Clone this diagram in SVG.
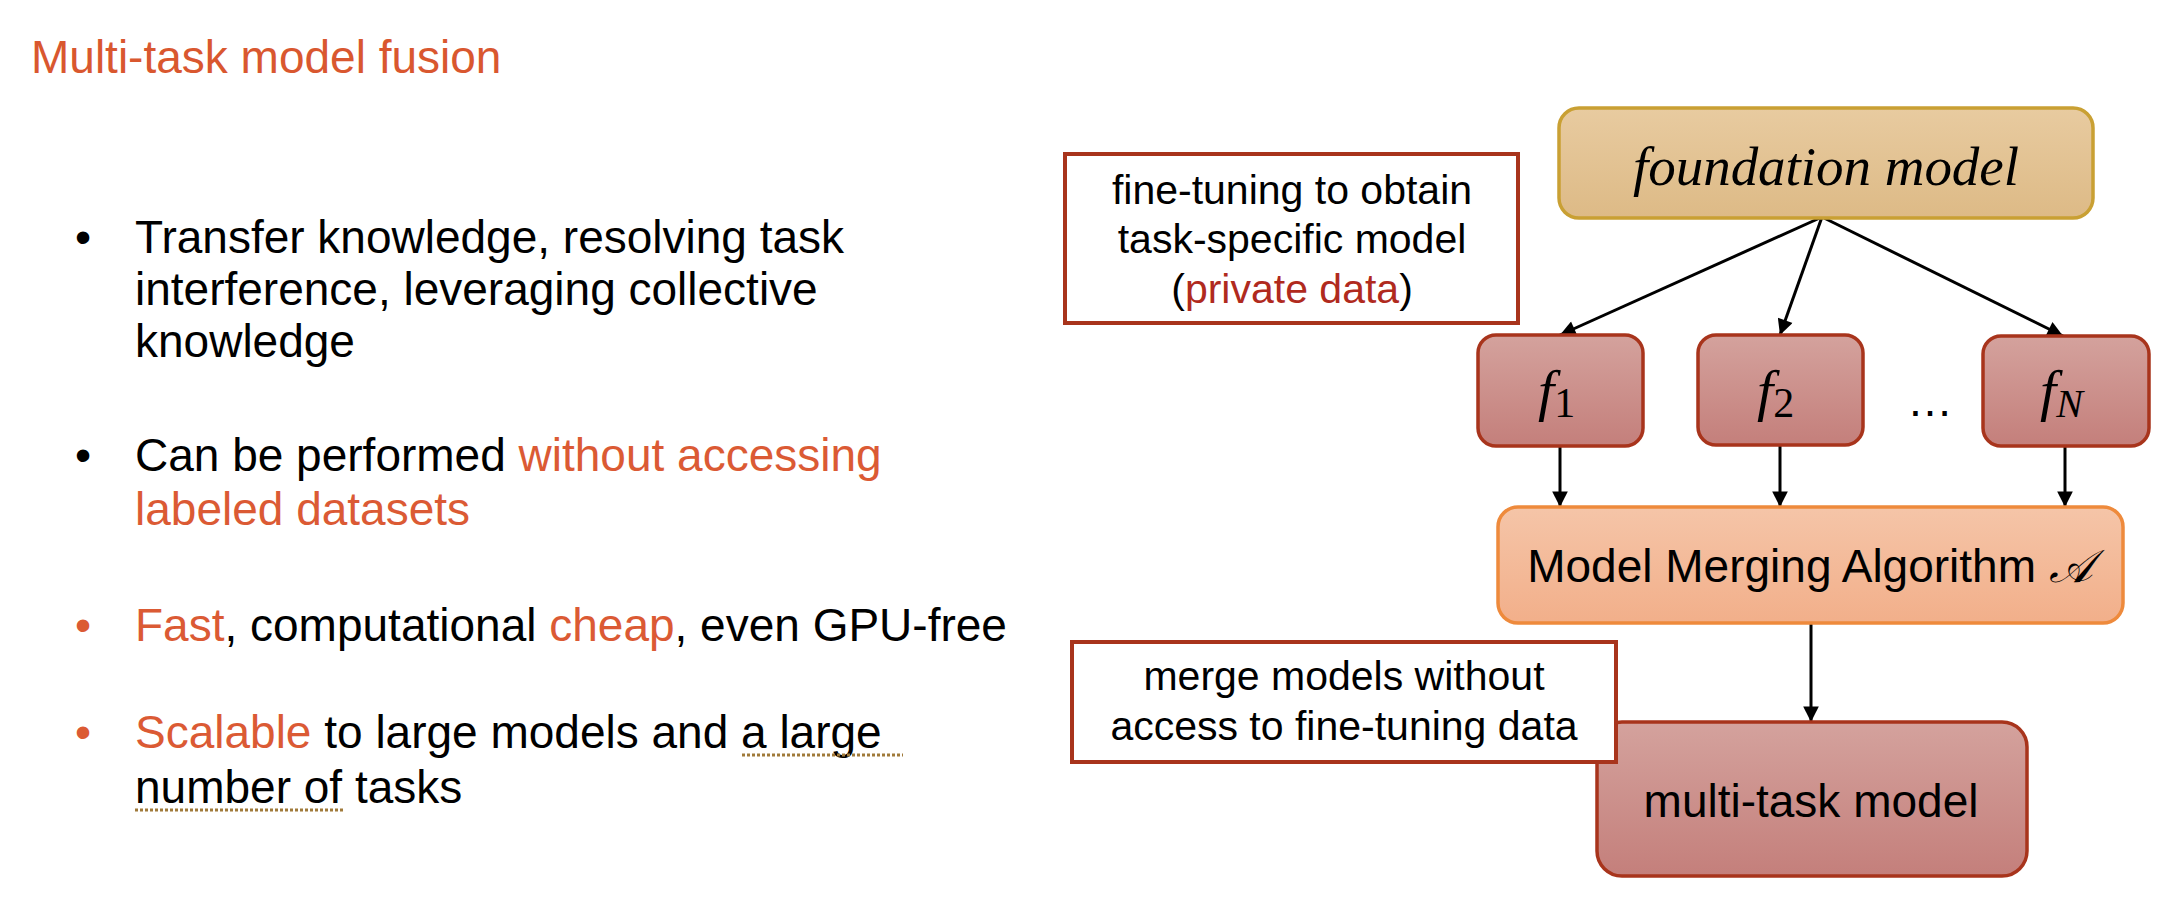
<svg xmlns="http://www.w3.org/2000/svg" width="2184" height="924" viewBox="0 0 2184 924">
<defs>
<linearGradient id="gRed" x1="0" y1="0" x2="0" y2="1"><stop offset="0" stop-color="#D4A29D"/><stop offset="1" stop-color="#C47F7B"/></linearGradient>
<linearGradient id="gGold" x1="0" y1="0" x2="0" y2="1"><stop offset="0" stop-color="#E8CBA0"/><stop offset="1" stop-color="#DDBA86"/></linearGradient>
<linearGradient id="gOrange" x1="0" y1="0" x2="0" y2="1"><stop offset="0" stop-color="#F5C5A8"/><stop offset="1" stop-color="#F2AF8A"/></linearGradient>
<marker id="arr" viewBox="0 0 10 10" refX="10" refY="5" markerWidth="6.5" markerHeight="5.2" orient="auto"><path d="M0,0 L10,5 L0,10 z" fill="#000"/></marker>
<style>
.sans{font-family:"Liberation Sans",Arial,sans-serif;}
.body{font-family:"Liberation Sans",Arial,sans-serif;font-size:46px;fill:#000;}
.hl{fill:#DB5A34;}
.math{font-family:"Liberation Serif","Times New Roman",serif;font-style:italic;fill:#000;}
.redbox{fill:url(#gRed);stroke:#A8341C;stroke-width:3.5;}
.note{fill:#fff;stroke:#A8341C;stroke-width:4;}
.lbl{font-family:"Liberation Sans",Arial,sans-serif;font-size:41px;fill:#000;text-anchor:middle;}
.conn line{stroke:#000;stroke-width:3;marker-end:url(#arr);}
.dotu{stroke:#A07A3A;stroke-width:3;stroke-dasharray:3 2;}
</style>
</defs>
<rect width="2184" height="924" fill="#fff"/>

<g id="title"><text class="body" x="31" y="73" style="fill:#D9572F">Multi-task model fusion</text></g>

<g id="bullets">
<text class="body" x="75" y="253">•</text>
<text class="body" x="135" y="253">Transfer knowledge, resolving task</text>
<text class="body" x="135" y="305">interference, leveraging collective</text>
<text class="body" x="135" y="357">knowledge</text>

<text class="body" x="75" y="471">•</text>
<text class="body" x="135" y="471">Can be performed <tspan class="hl">without accessing</tspan></text>
<text class="body hl" x="135" y="525">labeled datasets</text>

<text class="body hl" x="75" y="641">•</text>
<text class="body" x="135" y="641"><tspan class="hl">Fast</tspan>, computational <tspan class="hl">cheap</tspan>, even GPU-free</text>

<text class="body hl" x="75" y="748">•</text>
<text class="body" x="135" y="748"><tspan class="hl">Scalable</tspan> to large models and a large</text>
<text class="body" x="135" y="803">number of tasks</text>
<line class="dotu" x1="742" y1="755" x2="903" y2="755"/>
<line class="dotu" x1="135" y1="810" x2="345" y2="810"/>
</g>

<g id="connectors" class="conn">
<line x1="1822" y1="217" x2="1560" y2="335"/>
<line x1="1822" y1="217" x2="1780" y2="335"/>
<line x1="1822" y1="217" x2="2063" y2="336"/>
<line x1="1560" y1="446" x2="1560" y2="507"/>
<line x1="1780" y1="446" x2="1780" y2="507"/>
<line x1="2065" y1="446" x2="2065" y2="507"/>
<line x1="1811" y1="623" x2="1811" y2="722"/>
</g>

<g id="foundation">
<rect x="1559" y="108" width="534" height="110" rx="20" fill="url(#gGold)" stroke="#C9A033" stroke-width="3.5"/>
<text class="math" x="1826" y="185" font-size="55" text-anchor="middle" textLength="386" lengthAdjust="spacing">foundation model</text>
</g>

<g id="note-finetune">
<rect class="note" x="1065" y="154" width="453" height="169"/>
<text class="lbl" x="1292" y="204">fine-tuning to obtain</text>
<text class="lbl" x="1292" y="253">task-specific model</text>
<text class="lbl" x="1292" y="303">(<tspan fill="#B02A1E">private data</tspan>)</text>
</g>

<g id="f1">
<rect class="redbox" x="1478" y="335" width="165" height="111" rx="18"/>
<text class="math" x="1538" y="410" font-size="58">f<tspan font-style="normal" font-size="42" dy="7">1</tspan></text>
</g>
<g id="f2">
<rect class="redbox" x="1698" y="335" width="165" height="110" rx="18"/>
<text class="math" x="1757" y="410" font-size="58">f<tspan font-style="normal" font-size="42" dy="7">2</tspan></text>
</g>
<g id="ellipsis"><text class="sans" x="1930" y="416" font-size="46" text-anchor="middle">…</text></g>
<g id="fN">
<rect class="redbox" x="1983" y="336" width="166" height="110" rx="18"/>
<text class="math" x="2040" y="410" font-size="58">f<tspan font-size="40" dy="7">N</tspan></text>
</g>

<g id="merge">
<rect x="1498" y="507" width="625" height="116" rx="20" fill="url(#gOrange)" stroke="#EE8A3C" stroke-width="3.5"/>
<text class="sans" x="1810" y="582" font-size="46" text-anchor="middle">Model Merging Algorithm <tspan font-family="'DejaVu Sans','Noto Sans',serif" font-style="italic">𝒜</tspan></text>
</g>

<g id="multitask">
<rect class="redbox" x="1597" y="722" width="430" height="154" rx="25"/>
<text class="sans" x="1811" y="817" font-size="46" text-anchor="middle">multi-task model</text>
</g>

<g id="note-merge">
<rect class="note" x="1072" y="642" width="544" height="120"/>
<text class="lbl" x="1344" y="690">merge models without</text>
<text class="lbl" x="1344" y="740">access to fine-tuning data</text>
</g>
</svg>
